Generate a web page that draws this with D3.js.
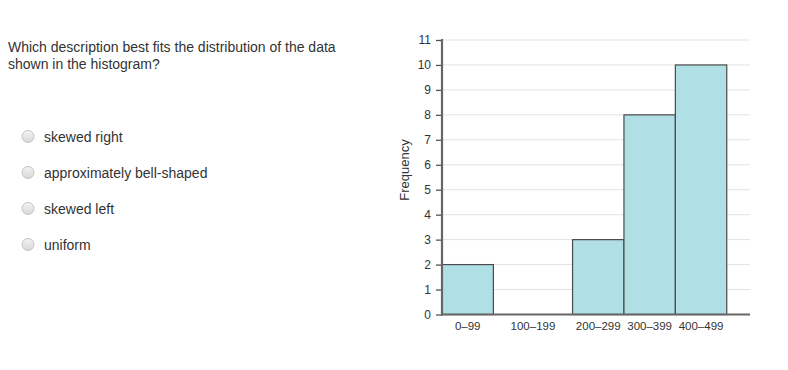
<!DOCTYPE html>
<html>
<head>
<meta charset="utf-8">
<script src="https://cdn.jsdelivr.net/npm/d3@7"></script>
<style>
  body { margin: 0; background: #fff; }
  text { font-family: "Liberation Sans", Arial, sans-serif; }
</style>
</head>
<body>
<div class="svg-container"></div>
<script>
var width = 788;
var height = 370;

// data
var bins = ["0–99", "100–199", "200–299", "300–399", "400–499"];
var frequency = [2, 0, 3, 8, 10];
var yTicks = [0, 1, 2, 3, 4, 5, 6, 7, 8, 9, 10, 11];
var question = ["Which description best fits the distribution of the data",
                "shown in the histogram?"];
var choices = ["skewed right", "approximately bell-shaped", "skewed left", "uniform"];

// bin edges in relative units (the empty bin is drawn wider in the original)
var binEdges = [0, 1, 2.54, 3.54, 4.54, 5.54];

var svg = d3.select(".svg-container")
            .append("svg")
            .attr("width", width)
            .attr("height", height);

// question text
svg.append("g")
   .selectAll("text")
   .data(question)
   .enter()
   .append("text")
   .attr("x", 8)
   .attr("y", function(d, i) { return 52 + i * 17; })
   .attr("font-size", "14px")
   .attr("fill", "#333")
   .text(function(d) { return d; });

// radio options
var defs = svg.append("defs");
var grad = defs.append("linearGradient")
               .attr("id", "radioGrad")
               .attr("x1", 0).attr("y1", 0).attr("x2", 0).attr("y2", 1);
grad.append("stop").attr("offset", "0%").attr("stop-color", "#f4f4f4");
grad.append("stop").attr("offset", "100%").attr("stop-color", "#d8d8d8");

var opt = svg.append("g")
             .selectAll("g")
             .data(choices)
             .enter()
             .append("g")
             .attr("transform", function(d, i) { return "translate(0," + (136.5 + i * 36) + ")"; });

opt.append("circle")
   .attr("cx", 28)
   .attr("cy", 0)
   .attr("r", 6)
   .attr("fill", "url(#radioGrad)")
   .attr("stroke", "#c4c4c4")
   .attr("stroke-width", 1);

opt.append("text")
   .attr("x", 44)
   .attr("y", 5)
   .attr("font-size", "14px")
   .attr("fill", "#333")
   .text(function(d) { return d; });

// chart
var plot = { "left": 442, "right": 750, "top": 40, "bottom": 314.5 };

var scaleY = d3.scaleLinear()
               .domain([0, 11])
               .range([plot.bottom, plot.top]);

var scaleX = d3.scaleLinear()
               .domain(binEdges)
               .range(binEdges.map(function(e) { return plot.left + e * 51.4; }));

var chart = svg.append("g");

// gridlines
chart.append("g")
     .selectAll("line")
     .data(yTicks.filter(function(d) { return d > 0; }))
     .enter()
     .append("line")
     .attr("x1", plot.left)
     .attr("x2", plot.right)
     .attr("y1", function(d) { return scaleY(d); })
     .attr("y2", function(d) { return scaleY(d); })
     .attr("stroke", "#e2e2e2")
     .attr("stroke-width", 1);

// bars
var barData = frequency.map(function(d, i) { return { "i": i, "value": d }; })
                       .filter(function(d) { return d.value > 0; });

chart.append("g")
     .selectAll("rect")
     .data(barData)
     .enter()
     .append("rect")
     .attr("x", function(d) { return scaleX(binEdges[d.i]); })
     .attr("y", function(d) { return scaleY(d.value); })
     .attr("width", function(d) { return scaleX(binEdges[d.i + 1]) - scaleX(binEdges[d.i]); })
     .attr("height", function(d) { return scaleY(0) - scaleY(d.value); })
     .attr("fill", "#b0dfe6")
     .attr("stroke", "#4a4a4a")
     .attr("stroke-width", 1.2);

// y axis
var yAxis = chart.append("g")
     .attr("transform", "translate(" + plot.left + ",0)")
     .attr("font-size", 12)
     .attr("font-family", "Liberation Sans, Arial, sans-serif")
     .call(d3.axisLeft(scaleY).tickValues(yTicks).tickSize(6).tickPadding(5));
yAxis.select(".domain").remove();
yAxis.selectAll(".tick line").attr("stroke", "#555").attr("stroke-width", 1.3);
yAxis.selectAll(".tick text")
     .attr("font-size", "12px")
     .attr("fill", "#333");
chart.append("line")
     .attr("x1", plot.left).attr("x2", plot.left)
     .attr("y1", scaleY(11) - 1).attr("y2", scaleY(0) + 1)
     .attr("stroke", "#666")
     .attr("stroke-width", 2.2);

// x axis
chart.append("line")
     .attr("x1", plot.left - 1).attr("x2", plot.right)
     .attr("y1", scaleY(0)).attr("y2", scaleY(0))
     .attr("stroke", "#666")
     .attr("stroke-width", 2.2);

chart.append("g")
     .selectAll("text")
     .data(bins)
     .enter()
     .append("text")
     .attr("x", function(d, i) { return (scaleX(binEdges[i]) + scaleX(binEdges[i + 1])) / 2; })
     .attr("y", scaleY(0) + 15.5)
     .attr("text-anchor", "middle")
     .attr("font-size", "11.5px")
     .attr("fill", "#333")
     .text(function(d) { return d; });

// y label
chart.append("text")
     .attr("transform", "translate(409,170) rotate(-90)")
     .attr("text-anchor", "middle")
     .attr("font-size", "13px")
     .attr("fill", "#333")
     .text("Frequency");
</script>
</body>
</html>
